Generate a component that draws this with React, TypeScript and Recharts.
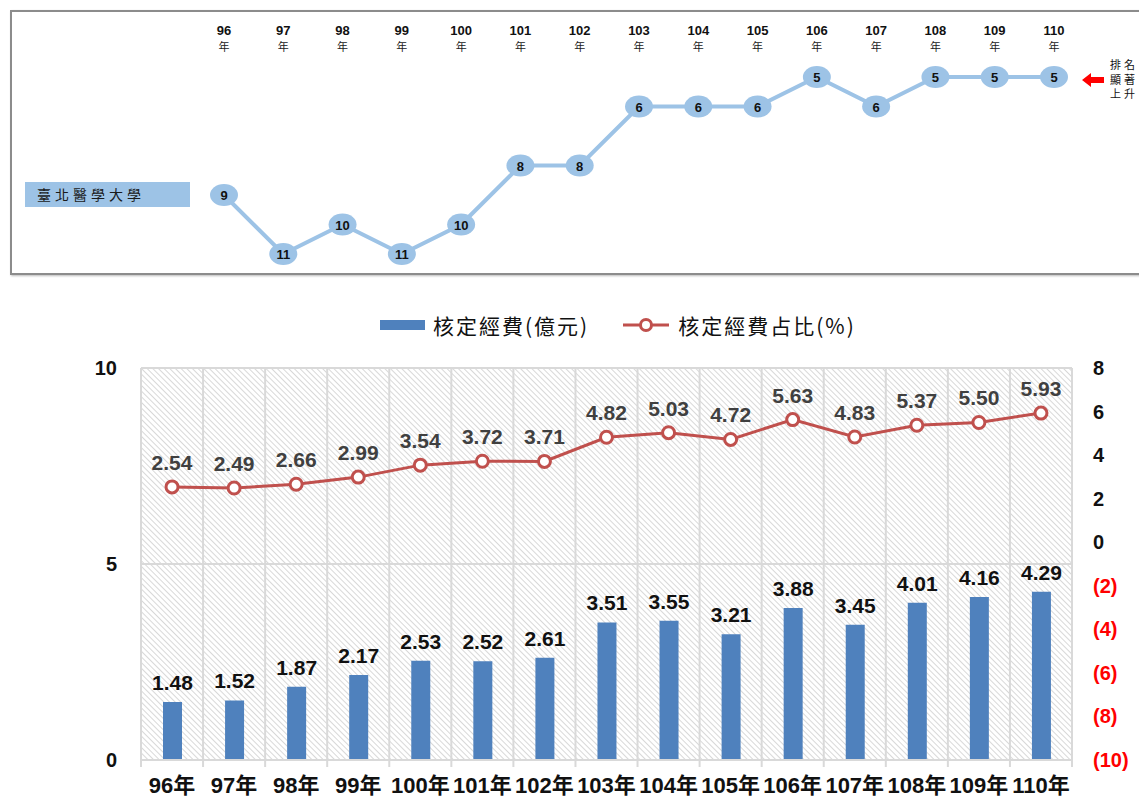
import { ComposedChart, LineChart, Line, Bar, XAxis, YAxis, CartesianGrid, LabelList, Legend } from 'recharts';

// 年度 (民國)
const years = ['96', '97', '98', '99', '100', '101', '102', '103', '104', '105', '106', '107', '108', '109', '110'];
// 排名
const ranks = [9, 11, 10, 11, 10, 8, 8, 6, 6, 6, 5, 6, 5, 5, 5];
// 核定經費(億元)
const budget = [1.48, 1.52, 1.87, 2.17, 2.53, 2.52, 2.61, 3.51, 3.55, 3.21, 3.88, 3.45, 4.01, 4.16, 4.29];
// 核定經費占比(%)
const share = [2.54, 2.49, 2.66, 2.99, 3.54, 3.72, 3.71, 4.82, 5.03, 4.72, 5.63, 4.83, 5.37, 5.5, 5.93];
const leftTicks = [0, 5, 10];
const rightTicks = [8, 6, 4, 2, 0, -2, -4, -6, -8, -10];
const seriesNames = ['核定經費(億元)', '核定經費占比(%)'];
const schoolName = '臺北醫學大學';
const noteLines = ['排名', '顯著', '上升'];

const BLUE = '#4F81BD';
const RED = '#C0504D';
const LIGHT = '#9DC3E6';
const GRID = '#D9D9D9';
const FONT = '"Liberation Sans", Arial, "Noto Sans CJK TC", sans-serif';
const CJK = '"Noto Sans CJK TC", "Liberation Serif", serif';

const rankData = years.map((y, i) => ({ year: y, rank: ranks[i] }));
const data = years.map((y, i) => ({ year: y, budget: budget[i], share: share[i] }));

const TopTick = ({ x, payload }: any) => (
  <g>
    <text x={x} y={23} textAnchor="middle" fontFamily={FONT} fontWeight="bold" fontSize={13} fill="#111">
      {payload.value}
    </text>
    <text x={x} y={39} textAnchor="middle" fontFamily={CJK} fontSize={11} fill="#222">
      年
    </text>
  </g>
);

const RankDot = ({ cx, cy, payload, index }: any) => (
  <g key={`rd-${index}`}>
    <ellipse cx={cx} cy={cy} rx={14} ry={11} fill={LIGHT} />
    <text x={cx} y={cy} dy={5} textAnchor="middle" fontFamily={FONT} fontWeight="bold" fontSize={13} fill="#111">
      {payload.rank}
    </text>
  </g>
);

const BottomTick = ({ x, y, payload, index }: any) => {
  const half = payload.offset || 31;
  return (
    <g>
      <line x1={x - half} x2={x - half} y1={y} y2={y + 7} stroke={GRID} strokeWidth={2} />
      {index === years.length - 1 && <line x1={x + half} x2={x + half} y1={y} y2={y + 7} stroke={GRID} strokeWidth={2} />}
      <text x={x} y={y} dy={33} textAnchor="middle" fontFamily={FONT} fontWeight="bold" fontSize={22} fill="#111">
        {payload.value}年
      </text>
    </g>
  );
};

const LeftTick = ({ x, y, payload }: any) => (
  <text x={x} y={y} dy={7} textAnchor="end" fontFamily={FONT} fontWeight="bold" fontSize={20} fill="#111">
    {payload.value}
  </text>
);

const RightTick = ({ x, y, payload }: any) => {
  const v = payload.value as number;
  return (
    <text x={x} y={y} dy={7} textAnchor="start" fontFamily={FONT} fontWeight="bold" fontSize={20} fill={v < 0 ? '#FF0000' : '#111'}>
      {v < 0 ? `(${-v})` : v}
    </text>
  );
};

const LegendContent = () => (
  <div style={{ display: 'flex', alignItems: 'center', height: 30, fontFamily: CJK, fontSize: 21, letterSpacing: 2, color: '#111' }}>
    <span style={{ display: 'inline-block', width: 45, height: 10, background: BLUE, marginRight: 8 }} />
    <span>{seriesNames[0]}</span>
    <svg width={46} height={16} style={{ marginLeft: 34, marginRight: 9 }}>
      <line x1={0} x2={46} y1={8} y2={8} stroke={RED} strokeWidth={3} />
      <circle cx={23} cy={8} r={5.5} fill="#fff" stroke={RED} strokeWidth={3} />
    </svg>
    <span>{seriesNames[1]}</span>
  </div>
);

export default function App() {
  return (
    <div style={{ position: 'absolute', left: 0, top: 0, width: 1139, height: 798, overflow: 'hidden', background: '#fff' }}>
      {/* 排名面板 */}
      <div
        style={{
          position: 'absolute',
          left: 10,
          top: 10,
          width: 1160,
          height: 261,
          border: '2px solid #8c8c8c',
          boxShadow: '1px 1px 2px #bbb',
        }}
      />
      <div
        style={{
          position: 'absolute',
          left: 25,
          top: 182,
          width: 165,
          height: 25,
          background: LIGHT,
          fontFamily: CJK,
          fontSize: 14,
          letterSpacing: 4,
          lineHeight: '25px',
          paddingLeft: 12,
          boxSizing: 'border-box',
          color: '#1a1a1a',
        }}
      >
        {schoolName}
      </div>
      <div style={{ position: 'absolute', left: 12, top: 12 }}>
        <LineChart width={1127} height={259} data={rankData} margin={{ top: 15, right: 85, bottom: 17, left: 212 }}>
          <XAxis dataKey="year" orientation="top" height={50} axisLine={false} tickLine={false} tick={<TopTick />} interval={0} />
          <YAxis hide domain={[5, 11]} reversed />
          <Line
            dataKey="rank"
            stroke={LIGHT}
            strokeWidth={4}
            dot={(p: any) => <RankDot {...p} />}
            activeDot={false}
            isAnimationActive={false}
          />
        </LineChart>
      </div>
      <svg style={{ position: 'absolute', left: 1080, top: 72 }} width={26} height={16}>
        <polygon points="2,8 11,1 11,5 24,5 24,11 11,11 11,15" fill="#FF0000" />
      </svg>
      <div style={{ position: 'absolute', left: 1110, top: 58, fontFamily: CJK, fontSize: 11, letterSpacing: 3, color: '#111', whiteSpace: 'nowrap' }}>
        {noteLines.map((t) => (
          <div key={t} style={{ height: 14.5, lineHeight: '12px', overflow: 'visible' }}>
            {t}
          </div>
        ))}
      </div>

      {/* 經費圖 */}
      <div style={{ position: 'absolute', left: 0, top: 290 }}>
        <ComposedChart width={1139} height={508} data={data} margin={{ top: 48, right: 7, bottom: 8, left: 81 }}>
          <defs>
            <pattern id="hatch" patternUnits="userSpaceOnUse" width={4} height={4} patternTransform="rotate(-45)">
              <rect width={4} height={4} fill="#fff" />
              <line x1={0} y1={0} x2={0} y2={4} stroke="#C4C4C4" strokeWidth={1.3} />
            </pattern>
          </defs>
          <Legend verticalAlign="top" content={<LegendContent />} wrapperStyle={{ top: 20, left: 380, width: 520 }} />
          <CartesianGrid
            yAxisId="left"
            fill="url(#hatch)"
            stroke={GRID}
            strokeWidth={2}
            verticalCoordinatesGenerator={({ offset }: any) =>
              Array.from({ length: years.length + 1 }, (_, i) => offset.left + (i * offset.width) / years.length)
            }
          />
          <XAxis
            dataKey="year"
            interval={0}
            height={30}
            tickSize={0}
            tickMargin={0}
            axisLine={{ stroke: GRID, strokeWidth: 2 }}
            tickLine={false}
            tick={<BottomTick />}
          />
          <YAxis
            yAxisId="left"
            domain={[0, 10]}
            ticks={leftTicks}
            width={60}
            tickSize={0}
            tickMargin={24}
            axisLine={false}
            tickLine={false}
            tick={<LeftTick />}
          />
          <YAxis
            yAxisId="right"
            orientation="right"
            domain={[-10, 8]}
            ticks={rightTicks}
            width={60}
            tickSize={0}
            tickMargin={21}
            axisLine={false}
            tickLine={false}
            tick={<RightTick />}
          />
          <Bar yAxisId="left" dataKey="budget" name={seriesNames[0]} fill={BLUE} barSize={19} isAnimationActive={false}>
            <LabelList
              dataKey="budget"
              position="top"
              offset={12}
              formatter={(v: any) => Number(v).toFixed(2)}
              style={{ fontFamily: FONT, fontWeight: 'bold', fontSize: 21, fill: '#111' }}
            />
          </Bar>
          <Line
            yAxisId="right"
            dataKey="share"
            name={seriesNames[1]}
            stroke={RED}
            strokeWidth={3}
            dot={{ r: 6, fill: '#fff', stroke: RED, strokeWidth: 3 }}
            activeDot={false}
            isAnimationActive={false}
          >
            <LabelList
              dataKey="share"
              position="top"
              offset={17}
              formatter={(v: any) => Number(v).toFixed(2)}
              style={{ fontFamily: FONT, fontWeight: 'bold', fontSize: 21, fill: '#404040' }}
            />
          </Line>
        </ComposedChart>
      </div>
    </div>
  );
}
